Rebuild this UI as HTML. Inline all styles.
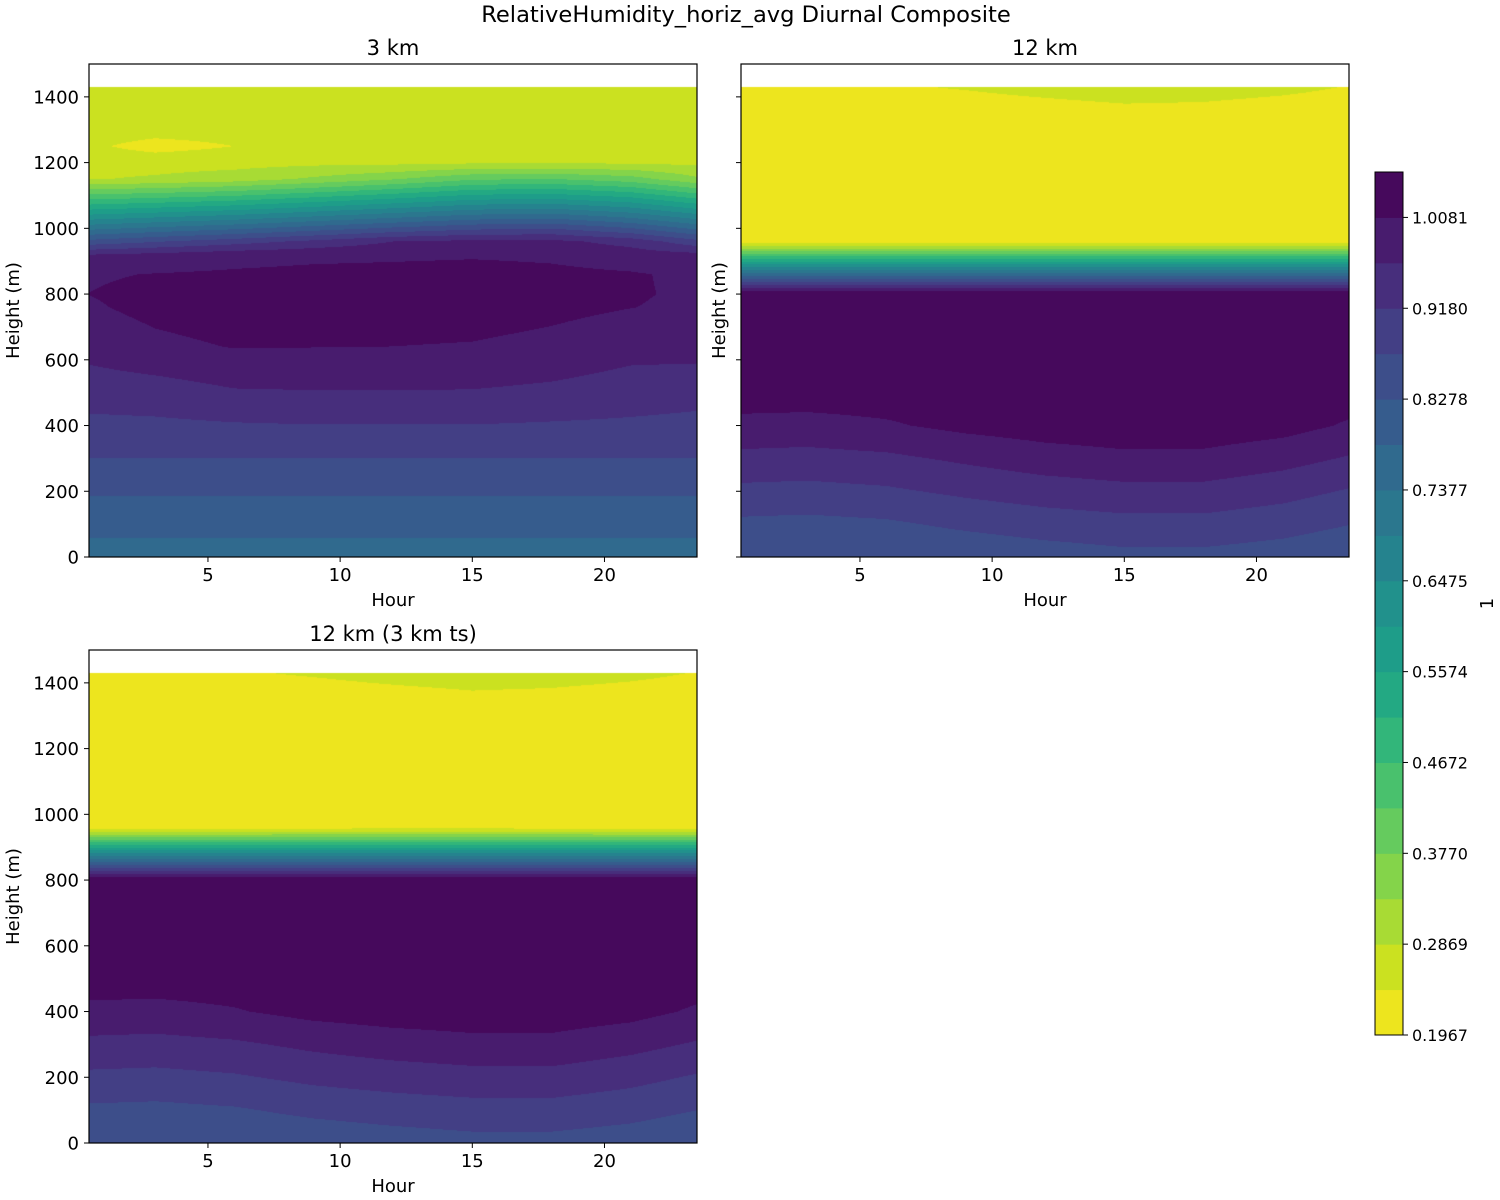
<!DOCTYPE html>
<html><head><meta charset="utf-8">
<style>
html,body{margin:0;padding:0;background:#fff;}
#root{position:relative;width:1500px;height:1200px;overflow:hidden;font-family:"DejaVu Sans","Liberation Sans",sans-serif;}
canvas{position:absolute;}
svg{position:absolute;left:0;top:0;}
</style></head>
<body>
<div id="root">
<canvas id="c1" width="608" height="493" style="left:89px;top:64px"></canvas>
<canvas id="c2" width="608" height="493" style="left:741px;top:64px"></canvas>
<canvas id="c3" width="608" height="493" style="left:89px;top:650px"></canvas>
<svg id="ov" width="1500" height="1200">
<text x="746" y="22" text-anchor="middle" font-size="22.6">RelativeHumidity_horiz_avg Diurnal Composite</text>
</svg>
</div>
<script>
// ---- data ----
const levelStart = 0.1967;
const levelStep = 0.04508;
const nBands = 19;
const cbTickLabels = ["0.1967","0.2869","0.3770","0.4672","0.5574","0.6475","0.7377","0.8278","0.9180","1.0081"];
const xTicks = [5,10,15,20];
const yTicks = [0,200,400,600,800,1000,1200,1400];

const hours = [0.5,3,6,9,12,15,18,21,23.5];

const heights1 = [0,60,190,305,410,510,640,760,800,860,920,960,1000,1050,1100,1150,1200,1250,1300,1430];
const rh1 = [
 [0.755,0.784,0.829,0.874,0.910,0.940,0.980,1.003,1.0085,1.003,0.963,0.843,0.725,0.578,0.431,0.284,0.268,0.250,0.265,0.265],
 [0.755,0.784,0.829,0.874,0.912,0.946,0.998,1.020,1.020,1.010,0.975,0.869,0.748,0.596,0.445,0.293,0.268,0.225,0.260,0.265],
 [0.755,0.784,0.829,0.874,0.918,0.962,1.010,1.030,1.028,1.015,0.990,0.898,0.774,0.619,0.464,0.309,0.270,0.242,0.260,0.265],
 [0.755,0.784,0.829,0.874,0.921,0.964,1.009,1.030,1.028,1.020,0.997,0.929,0.805,0.650,0.495,0.340,0.275,0.262,0.265,0.265],
 [0.755,0.784,0.829,0.874,0.921,0.964,1.008,1.030,1.028,1.022,1.000,0.963,0.836,0.682,0.528,0.373,0.275,0.265,0.265,0.265],
 [0.755,0.784,0.829,0.874,0.921,0.963,1.005,1.030,1.030,1.025,1.003,0.975,0.862,0.713,0.564,0.415,0.280,0.265,0.265,0.265],
 [0.755,0.784,0.829,0.874,0.917,0.956,0.995,1.020,1.020,1.018,1.000,0.975,0.871,0.722,0.572,0.423,0.280,0.265,0.265,0.265],
 [0.755,0.784,0.829,0.874,0.913,0.944,0.978,1.009,1.012,1.012,0.985,0.946,0.830,0.686,0.541,0.397,0.280,0.265,0.265,0.265],
 [0.755,0.784,0.829,0.874,0.908,0.937,0.980,1.000,1.002,1.000,0.975,0.888,0.773,0.629,0.485,0.341,0.275,0.265,0.265,0.265]
];

const heights2 = [0,100,200,300,400,500,780,810,840,870,900,930,955,1000,1300,1380,1430];
const rh2 = [
 [0.830,0.863,0.907,0.950,0.996,1.030,1.030,1.010,0.860,0.710,0.550,0.380,0.240,0.215,0.215,0.225,0.235],
 [0.830,0.860,0.904,0.947,0.993,1.030,1.030,1.010,0.860,0.710,0.550,0.380,0.240,0.215,0.215,0.225,0.235],
 [0.830,0.866,0.911,0.954,1.003,1.030,1.030,1.010,0.860,0.710,0.550,0.380,0.240,0.215,0.215,0.225,0.237],
 [0.838,0.882,0.927,0.971,1.020,1.035,1.030,1.010,0.860,0.710,0.550,0.380,0.240,0.215,0.215,0.228,0.245],
 [0.850,0.895,0.940,0.988,1.030,1.035,1.030,1.010,0.860,0.710,0.550,0.380,0.240,0.215,0.215,0.235,0.255],
 [0.860,0.903,0.949,0.998,1.035,1.035,1.030,1.010,0.860,0.710,0.550,0.380,0.240,0.215,0.215,0.242,0.262],
 [0.860,0.903,0.949,0.997,1.035,1.035,1.030,1.010,0.860,0.710,0.550,0.380,0.240,0.215,0.215,0.240,0.260],
 [0.850,0.891,0.934,0.980,1.025,1.035,1.030,1.010,0.860,0.710,0.550,0.380,0.240,0.215,0.215,0.232,0.252],
 [0.835,0.874,0.914,0.959,1.003,1.030,1.030,1.010,0.860,0.710,0.550,0.380,0.240,0.215,0.215,0.225,0.240]
];

const heights3 = [0,100,200,300,400,500,780,810,840,870,900,930,955,1000,1300,1380,1430];
const rh3 = [
 [0.830,0.864,0.908,0.951,0.997,1.030,1.030,1.010,0.860,0.710,0.550,0.380,0.238,0.215,0.215,0.225,0.235],
 [0.830,0.861,0.905,0.948,0.994,1.030,1.030,1.010,0.860,0.710,0.550,0.380,0.238,0.215,0.215,0.225,0.235],
 [0.831,0.868,0.913,0.956,1.005,1.030,1.030,1.010,0.860,0.710,0.550,0.380,0.240,0.215,0.215,0.226,0.238],
 [0.840,0.884,0.929,0.973,1.022,1.035,1.030,1.010,0.860,0.710,0.550,0.380,0.242,0.215,0.215,0.229,0.246],
 [0.850,0.894,0.939,0.986,1.030,1.035,1.030,1.010,0.860,0.710,0.550,0.380,0.244,0.215,0.215,0.236,0.256],
 [0.858,0.901,0.946,0.995,1.033,1.035,1.030,1.010,0.860,0.710,0.550,0.380,0.244,0.215,0.215,0.243,0.263],
 [0.858,0.901,0.947,0.995,1.033,1.035,1.030,1.010,0.860,0.710,0.550,0.380,0.242,0.215,0.215,0.240,0.260],
 [0.849,0.889,0.932,0.978,1.023,1.035,1.030,1.010,0.860,0.710,0.550,0.380,0.240,0.215,0.215,0.232,0.252],
 [0.835,0.873,0.913,0.958,1.002,1.030,1.030,1.010,0.860,0.710,0.550,0.380,0.238,0.215,0.215,0.225,0.240]
];

// ---- colormap ----
const VIR = ["#440154","#471164","#482475","#463480","#414487","#3b528b","#355f8d","#2f6c8e","#2a788e","#25848e","#21918c","#1e9c89","#22a884","#2fb47c","#44bf70","#5ec962","#7ad151","#9bd93c","#bddf26","#dfe318","#fde725"].map(h=>[parseInt(h.substr(1,2),16),parseInt(h.substr(3,2),16),parseInt(h.substr(5,2),16)]);
function viridis(t){
  t=Math.max(0,Math.min(1,t));
  const f=t*20, i=Math.min(19,Math.floor(f)), r=f-i;
  const a=VIR[i], b=VIR[i+1];
  return [Math.round(a[0]+(b[0]-a[0])*r),Math.round(a[1]+(b[1]-a[1])*r),Math.round(a[2]+(b[2]-a[2])*r)];
}
function bandColor(j){ return viridis(1-(j+0.5)/nBands); }
function bandOf(v){ let j=Math.floor((v-levelStart)/levelStep); return Math.max(0,Math.min(nBands-1,j)); }

// ---- axis functions ----
const AX_W=608, AX_H=493, XMIN=0.5, XMAX=23.5, YMIN=0, YMAX=1500;
function xScale(h){ return (h-XMIN)/(XMAX-XMIN)*AX_W; }
function yScale(v){ return AX_H-(v-YMIN)/(YMAX-YMIN)*AX_H; }
function xInv(px){ return XMIN+px/AX_W*(XMAX-XMIN); }
function yInv(py){ return YMIN+(AX_H-py)/AX_H*(YMAX-YMIN); }

function findIdx(arr,v){
  for(let i=0;i<arr.length-1;i++){ if(v<=arr[i+1]) return i; }
  return arr.length-2;
}
function drawField(id, hrs, hts, rh){
  const cv=document.getElementById(id), ctx=cv.getContext('2d');
  const img=ctx.createImageData(AX_W,AX_H), d=img.data;
  const hTop=hts[hts.length-1], hBot=hts[0];
  for(let py=0;py<AX_H;py++){
    const h=yInv(py+0.5);
    for(let px=0;px<AX_W;px++){
      const k=(py*AX_W+px)*4;
      if(h>hTop||h<hBot){ d[k]=255;d[k+1]=255;d[k+2]=255;d[k+3]=255; continue; }
      const hr=xInv(px+0.5);
      const i=findIdx(hrs,hr), j=findIdx(hts,h);
      const tx=Math.max(0,Math.min(1,(hr-hrs[i])/(hrs[i+1]-hrs[i])));
      const ty=Math.max(0,Math.min(1,(h-hts[j])/(hts[j+1]-hts[j])));
      const v=(rh[i][j]*(1-tx)+rh[i+1][j]*tx)*(1-ty)+(rh[i][j+1]*(1-tx)+rh[i+1][j+1]*tx)*ty;
      const c=bandColor(bandOf(v));
      d[k]=c[0];d[k+1]=c[1];d[k+2]=c[2];d[k+3]=255;
    }
  }
  ctx.putImageData(img,0,0);
}
drawField('c1',hours,heights1,rh1);
drawField('c2',hours,heights2,rh2);
drawField('c3',hours,heights3,rh3);

// ---- SVG axes ----
const NS="http://www.w3.org/2000/svg";
const ov=document.getElementById('ov');
function mk(tag,attrs,parent){ const e=document.createElementNS(NS,tag); for(const k in attrs) e.setAttribute(k,attrs[k]); (parent||ov).appendChild(e); return e; }

function drawAxes(left,top,title,slug,showYLabels){
  const g=mk('g',{transform:`translate(${left},${top})`});
  
  
  const fr=mk('rect',{x:0,y:0,width:AX_W,height:AX_H,fill:'none',stroke:'#000','stroke-width':1.2},g);
  
  
  xTicks.forEach(t=>{
    const x=xScale(t);
    const tk=mk('line',{x1:x,x2:x,y1:AX_H,y2:AX_H+5,stroke:'#000','stroke-width':1},g);
    
    
    const tl=mk('text',{x:x,y:AX_H+24,'text-anchor':'middle','font-size':18},g);
    tl.textContent=t;
    
    
  });
  yTicks.forEach(t=>{
    const y=yScale(t);
    const tk=mk('line',{x1:-5,x2:0,y1:y,y2:y,stroke:'#000','stroke-width':1},g);
    
    
    if(showYLabels){
      const tl=mk('text',{x:-10,y:y+6.5,'text-anchor':'end','font-size':18},g);
      tl.textContent=t;
      
      
    }
  });
  const xl=mk('text',{x:AX_W/2,y:AX_H+49,'text-anchor':'middle','font-size':18},g);
  xl.textContent='Hour';
  
  
  const yx = showYLabels ? -70 : -16;
  const yl=mk('text',{x:0,y:0,'text-anchor':'middle','font-size':18,transform:`translate(${yx},${AX_H/2}) rotate(-90)`},g);
  yl.textContent='Height (m)';
  
  
  const tt=mk('text',{x:AX_W/2,y:-9,'text-anchor':'middle','font-size':21},g);
  tt.textContent=title;
  
  
}
drawAxes(89,64,'3 km','panel-3km',true);
drawAxes(741,64,'12 km','panel-12km',false);
drawAxes(89,650,'12 km (3 km ts)','panel-12km-3km-ts',true);

// ---- colorbar ----
const CB_X=1375, CB_TOP=172, CB_BOT=1035, CB_W=28;
const cbH=(CB_BOT-CB_TOP)/nBands;
const cbg=mk('g',{});


for(let j=0;j<nBands;j++){
  const c=bandColor(j);
  const r=mk('rect',{x:CB_X,y:CB_BOT-(j+1)*cbH,width:CB_W,height:cbH+0.5,fill:`rgb(${c[0]},${c[1]},${c[2]})`},cbg);
  
  
}
const cbf=mk('rect',{x:CB_X,y:CB_TOP,width:CB_W,height:CB_BOT-CB_TOP,fill:'none',stroke:'#000','stroke-width':1},cbg);


cbTickLabels.forEach((lab,i)=>{
  const y=CB_BOT-i*2*cbH;
  const tk=mk('line',{x1:CB_X+CB_W,x2:CB_X+CB_W+5,y1:y,y2:y,stroke:'#000','stroke-width':1},cbg);
  
  
  const t=mk('text',{x:CB_X+CB_W+9,y:y+6,'font-size':16},cbg);
  t.textContent=lab;
  
  
});
const cbl=mk('text',{x:0,y:0,'text-anchor':'middle','font-size':18,transform:`translate(1493,${(CB_TOP+CB_BOT)/2}) rotate(-90)`},cbg);
cbl.textContent='1';


</script>
</body></html>
